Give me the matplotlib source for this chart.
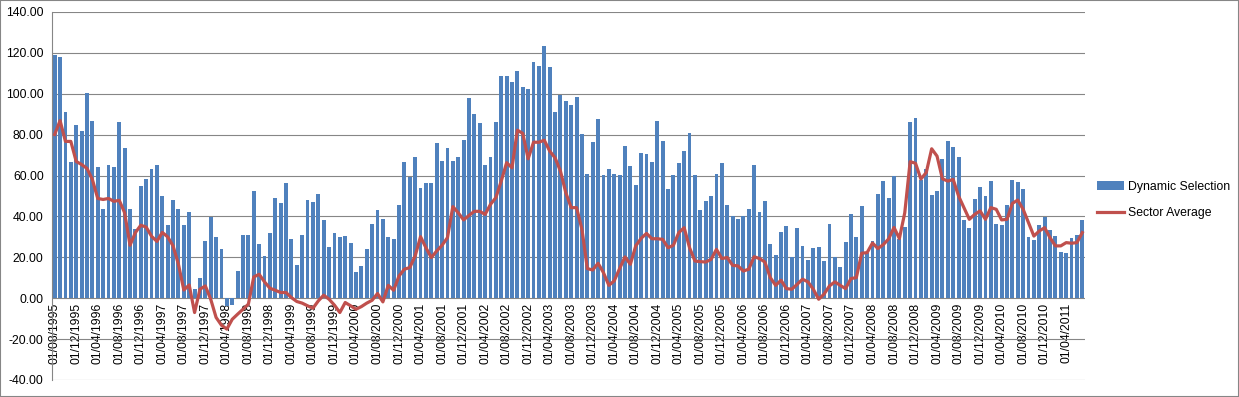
import matplotlib
matplotlib.use('Agg')
import matplotlib.pyplot as plt
import pandas as pd
from matplotlib.patches import Rectangle

# monthly values, 01/08/1995 .. 01/07/2011
dynamic_selection = [
    119.2, 118.2, 91.3, 66.4, 84.5, 82.0, 100.6, 86.9, 64.0, 43.5, 65.4, 64.0, 86.0,
    73.3, 43.5, 33.7, 54.7, 58.1, 63.0, 65.4, 49.8, 35.7, 47.9, 43.5, 35.7, 42.0,
    4.4, 9.8, 27.8, 39.6, 29.8, 23.9, -3.8, -3.1, 13.2, 30.8, 30.8, 52.3, 26.4, 20.5,
    31.7, 48.8, 46.4, 56.2, 28.8, 16.1, 30.8, 47.9, 46.9, 50.8, 38.1, 24.9, 31.7, 29.8,
    30.3, 26.9, 12.7, 15.6, 23.9,
    36.1, 43.0, 38.6, 29.8, 28.8, 45.4, 66.4, 59.1, 69.3, 53.7, 56.2, 56.2, 75.7, 66.9,
    73.3, 66.9, 69.3, 77.2, 97.7, 90.3, 85.5, 65.4, 68.9, 86.0, 108.9, 108.9, 106.0,
    111.3, 103.5, 102.1, 115.7, 113.8, 123.6, 113.3,
    91.3, 99.6, 96.7, 94.7, 98.6, 80.1, 61.0, 76.2, 87.9, 60.1, 63.0, 60.6, 60.1, 74.7,
    64.5, 55.2, 70.8, 70.3, 66.4, 86.9, 76.7, 53.2, 60.1, 65.9, 71.8, 80.6, 60.1, 43.0,
    47.4, 49.8, 60.6, 65.9, 45.4,
    40.0, 38.6, 40.0, 43.5, 65.0, 42.0, 47.4, 26.4, 21.0, 32.2, 35.2, 20.0, 34.2, 25.4,
    18.6, 24.4, 24.9, 18.1, 36.1, 20.0, 15.1, 27.3, 41.0, 29.8, 44.9, 22.0, 27.8, 50.8,
    57.1, 49.0, 59.6, 28.8,
    35.0, 86.4, 88.0, 58.0, 63.0, 50.3, 52.3, 67.9, 76.7, 74.2, 69.3, 38.1, 34.2, 48.3,
    54.2, 49.8, 57.1, 36.1, 35.7, 45.4, 57.6, 56.7, 53.2, 29.8, 28.3, 35.7, 39.6, 33.2,
    30.3, 22.5, 22.0, 29.3, 30.8, 38.1,
]

sector_average = [
    80.1, 86.9, 76.7, 76.7, 66.9, 65.4, 63.5, 58.1, 48.8, 48.3, 48.8, 47.4, 47.9, 41.8,
    25.9, 32.1, 35.7, 34.8, 30.3, 27.8, 32.2, 30.0, 25.6, 16.6, 4.0, 6.5,
    -7.0, 4.4, 6.0, -0.5, -9.4, -13.2, -15.1, -10.3, -7.8, -5.4, -2.9, 10.4, 11.7, 8.0,
    4.9, 3.9, 2.8, 2.8, 0.3, -1.6, -2.4, -3.7, -4.9, -1.3, 1.5, -0.5, -3.4, -7.0, -2.1,
    -3.7, -5.4, -4.1, -2.4,
    -1.0, 2.3, -1.8, 6.3, 3.9, 10.9, 14.2, 15.0, 20.7, 30.1, 24.7, 19.9, 23.1, 25.9,
    29.6, 44.8, 41.8, 38.3, 40.5, 42.5, 42.5, 41.0, 45.9, 49.2, 57.3, 66.3, 63.8, 82.2,
    80.6, 68.2, 76.3, 76.3, 77.3, 72.0,
    68.7, 62.2, 51.6, 44.3, 44.3, 33.7, 14.5, 13.8, 17.1, 12.5, 6.3, 8.5, 14.5, 20.2,
    16.6, 25.6, 29.3, 31.7, 29.1, 29.1, 28.8, 24.7, 25.9, 32.1, 34.5, 24.7, 18.2, 17.9,
    17.7, 19.0, 23.9, 19.4, 19.9,
    16.1, 15.8, 13.3, 14.2, 20.3, 19.4, 17.7, 10.1, 6.3, 8.8, 4.7, 4.4, 6.8, 9.3, 8.0,
    4.4, -0.5, 2.0, 6.0, 8.0, 6.3, 4.7, 9.6, 10.1, 22.0, 22.3, 27.0, 24.3, 26.2, 29.0,
    34.6, 29.2,
    41.8, 66.8, 66.0, 58.3, 61.5, 73.1, 69.5, 58.4, 57.3, 58.1, 50.0, 44.3, 38.6, 41.0,
    42.7, 38.6, 44.3, 43.5, 38.3, 38.6, 46.4, 48.0, 43.5, 37.0, 30.4, 32.9, 34.5, 29.6,
    25.6, 25.6, 27.2, 26.9, 27.2, 32.1,
]

dates = pd.date_range('1995-08-01', periods=len(dynamic_selection), freq='MS')
date_labels = [d.strftime('%d/%m/%Y') for d in dates]
y_ticks = list(range(-40, 141, 20))

plt.rcParams['font.family'] = ['Liberation Sans', 'DejaVu Sans']
plt.rcParams['font.size'] = 8.8

fig = plt.figure(figsize=(12.39, 3.97), dpi=100)
ax = fig.add_axes([52 / 1239, 1 - 380 / 397, (1085 - 52) / 1239, 368 / 397])

x = list(range(len(dynamic_selection)))
bars = ax.bar(x, dynamic_selection, width=0.72, color='#4F81BD', zorder=2)
line, = ax.plot(x, sector_average, color='#C0504D', linewidth=2.3, zorder=3)

# category labels sit next to the zero line, like Excel
# (move the spine first: it resets the tick objects)
ax.spines['bottom'].set_position(('data', 0))
ax.spines['bottom'].set_visible(False)
ax.spines['top'].set_visible(False)
ax.spines['right'].set_visible(False)
ax.spines['left'].set_color('#868686')

ax.set_xlim(-0.5, len(x) - 0.5)
ax.set_ylim(-40, 140)
ax.set_yticks(y_ticks)
ax.set_yticklabels(['%.2f' % v for v in y_ticks])
ax.grid(axis='y', color='#868686', linewidth=0.8, zorder=0)
ax.set_axisbelow(True)

ax.set_xticks(x[::4])
ax.set_xticklabels(date_labels[::4])
ax.tick_params(axis='x', length=0, pad=3, labelrotation=90)
ax.tick_params(axis='y', length=0, pad=6)

fig.legend([bars, line], ['Dynamic Selection', 'Sector Average'],
           loc='center left', bbox_to_anchor=(1086 / 1239, 1 - 200 / 397),
           frameon=False, handlelength=2.2, labelspacing=1.2, handletextpad=0.3)

# outer chart border
fig.patches.append(Rectangle((0, 0), 1, 1, transform=fig.transFigure, fill=False,
                             edgecolor='#868686', linewidth=1.5))

fig.savefig('out.png', dpi=100)
